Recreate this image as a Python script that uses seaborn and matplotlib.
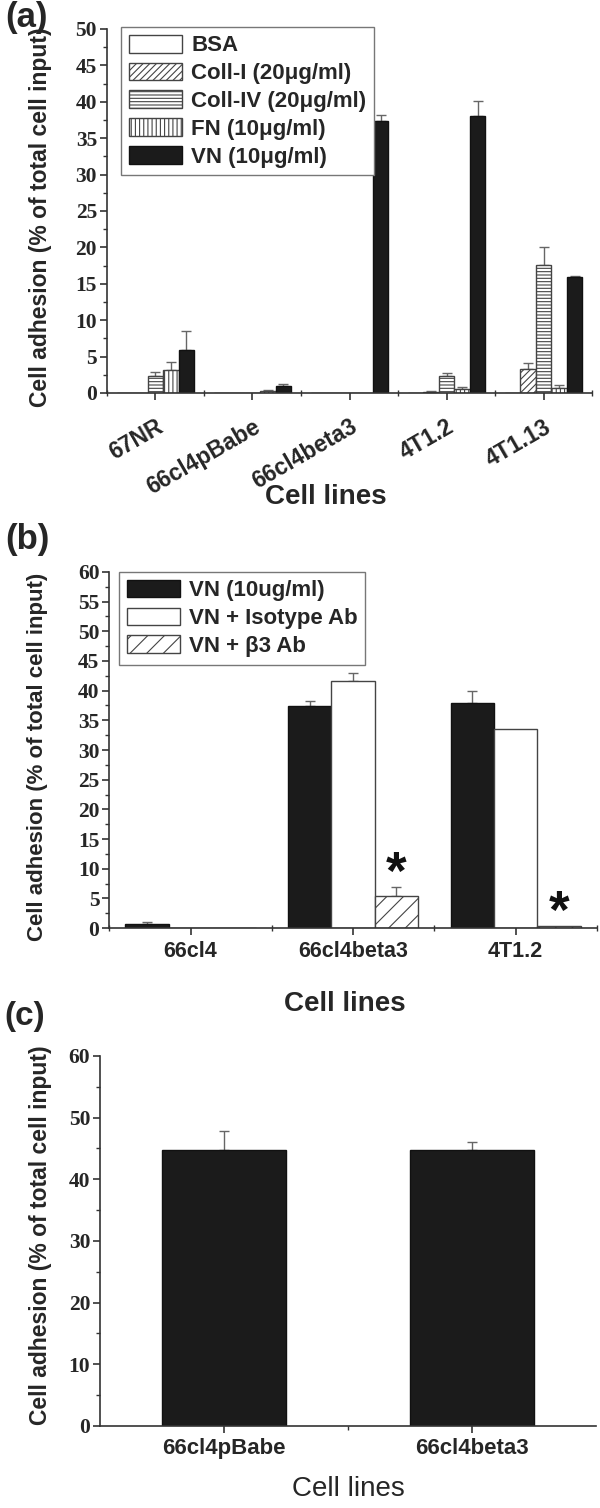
import numpy as np
import pandas as pd
import seaborn as sns
import matplotlib.pyplot as plt
from matplotlib.ticker import MultipleLocator

# ---- panel (a) data ----
cell_lines_a = ["67NR", "66cl4pBabe", "66cl4beta3", "4T1.2", "4T1.13"]
treatments_a = ["BSA", "Coll-I (20\u03bcg/ml)", "Coll-IV (20\u03bcg/ml)",
                "FN (10\u03bcg/ml)", "VN (10\u03bcg/ml)"]
bsa = [0, 0, 0, 0, 0]
bsa_err = [0, 0, 0, 0, 0]
coll1 = [0, 0, 0, 0.15, 3.3]
coll1_err = [0, 0, 0, 0.1, 0.8]
coll4 = [2.4, 0, 0, 2.4, 17.6]
coll4_err = [0.55, 0, 0, 0.4, 2.4]
fn = [3.2, 0.3, 0, 0.5, 0.7]
fn_err = [1.0, 0.05, 0, 0.3, 0.45]
vn = [5.9, 0.9, 37.4, 38.0, 15.9]
vn_err = [2.6, 0.3, 0.8, 2.1, 0.2]

# ---- panel (b) data ----
cell_lines_b = ["66cl4", "66cl4beta3", "4T1.2"]
treatments_b = ["VN (10ug/ml)", "VN + Isotype Ab", "VN + \u03b23 Ab"]
vn_b = [0.75, 37.4, 37.9]
vn_b_err = [0.25, 0.9, 2.1]
iso_b = [0, 41.6, 33.6]
iso_b_err = [0, 1.4, 0]
b3_b = [0, 5.35, 0.4]
b3_b_err = [0, 1.55, 0]

# ---- panel (c) data ----
cell_lines_c = ["66cl4pBabe", "66cl4beta3"]
adh_c = [44.7, 44.8]
adh_c_err = [3.1, 1.2]

sns.set_style("ticks")
plt.rcParams['font.family'] = ['Liberation Sans', 'DejaVu Sans']
plt.rcParams['font.weight'] = 'bold'
plt.rcParams['hatch.linewidth'] = 0.8
plt.rcParams['axes.linewidth'] = 1.2
plt.rcParams['axes.edgecolor'] = '#333333'

DARK = '#1b1b1b'
EDGE = '#444444'
ERR = '#666666'


def long_df(cats, treats, vals, errs):
    rows = []
    for t, v, e in zip(treats, vals, errs):
        for c, vv, ee in zip(cats, v, e):
            rows.append({'cell': c, 'treat': t, 'value': vv, 'err': ee})
    return pd.DataFrame(rows)


def add_errors(ax, bars, errs_list):
    for cont, errs in zip(bars, errs_list):
        xs = np.array([p.get_x() + p.get_width() / 2 for p in cont.patches])
        hs = np.array([p.get_height() for p in cont.patches])
        e = np.array(errs, dtype=float)
        m = e > 0
        if not m.any():
            continue
        ax.errorbar(xs[m], hs[m], yerr=[np.zeros(m.sum()), e[m]],
                    fmt='none', ecolor=ERR, elinewidth=1, capsize=3.5,
                    capthick=1, zorder=1)


def style_y(ax, ymax, major, minor):
    sns.despine(ax=ax)
    ax.set_ylim(0, ymax)
    ticks = np.arange(0, ymax + 0.01, major)
    ax.set_yticks(ticks)
    ax.set_yticklabels([f"{t:g}" for t in ticks], fontfamily='Liberation Serif',
                       fontweight='bold', fontsize=15.5)
    ax.yaxis.set_minor_locator(MultipleLocator(minor))
    ax.tick_params(axis='y', which='major', length=5, width=1.2, color='#333333', pad=2)
    ax.tick_params(axis='y', which='minor', length=3, width=1.0, color='#333333')


fig = plt.figure(figsize=(6, 15.08), dpi=100)

# ================= (a) =================
ax = fig.add_axes([0.178, 0.7394, 0.809, 0.2414])
df_a = long_df(cell_lines_a, treatments_a, [bsa, coll1, coll4, fn, vn],
               [bsa_err, coll1_err, coll4_err, fn_err, vn_err])
pal_a = dict(zip(treatments_a, ['white', 'white', 'white', 'white', DARK]))
sns.barplot(data=df_a, x='cell', y='value', hue='treat', order=cell_lines_a,
            hue_order=treatments_a, palette=pal_a, errorbar=None, width=0.8,
            edgecolor=EDGE, linewidth=1, ax=ax, zorder=2)
bars = list(ax.containers)
for cont, h in zip(bars, [None, '/////', '-----', '||||', None]):
    for p in cont.patches:
        p.set_hatch(h)
        p.set_edgecolor(EDGE if p.get_facecolor()[0] > 0.5 else '#111111')
add_errors(ax, bars, [bsa_err, coll1_err, coll4_err, fn_err, vn_err])
style_y(ax, 50, 5, 2.5)
ax.set_xlim(-0.5, 4.5)
ax.set_xticks(range(len(cell_lines_a)))
ax.set_xticklabels(cell_lines_a, rotation=30, ha='right', rotation_mode='anchor',
                   fontsize=16.5, fontweight='bold')
ax.set_xticks(np.arange(-0.5, 4.6, 1), minor=True)
ax.tick_params(axis='x', which='major', length=5, width=1.2, color='#333333', pad=11)
ax.tick_params(axis='x', which='minor', direction='inout', length=5, width=1.0, color='#333333')
ax.set_xlabel('Cell lines', fontsize=20, fontweight='bold')
ax.xaxis.set_label_coords(0.452, -0.25)
ax.set_ylabel('Cell adhesion (% of total cell input)', fontsize=16.5, fontweight='bold')
ax.yaxis.set_label_coords(-0.113, 0.484)
leg = ax.legend(handles=[c.patches[0] for c in bars], labels=treatments_a,
                loc='upper left', bbox_to_anchor=(0.03, 1.005), fontsize=16,
                fancybox=False, framealpha=1, edgecolor='#777777',
                handlelength=2.4, handleheight=0.85, handletextpad=0.4,
                labelspacing=0.28, borderpad=0.35, borderaxespad=0)
leg.get_frame().set_linewidth(1.0)

# ================= (b) =================
ax = fig.add_axes([0.182, 0.3846, 0.813, 0.2361])
df_b = long_df(cell_lines_b, treatments_b, [vn_b, iso_b, b3_b],
               [vn_b_err, iso_b_err, b3_b_err])
pal_b = dict(zip(treatments_b, [DARK, 'white', 'white']))
sns.barplot(data=df_b, x='cell', y='value', hue='treat', order=cell_lines_b,
            hue_order=treatments_b, palette=pal_b, errorbar=None, width=0.8,
            edgecolor=EDGE, linewidth=1, ax=ax, zorder=2)
bars = list(ax.containers)
for cont, h in zip(bars, [None, None, '//']):
    for p in cont.patches:
        p.set_hatch(h)
        p.set_edgecolor(EDGE if p.get_facecolor()[0] > 0.5 else '#111111')
add_errors(ax, bars, [vn_b_err, iso_b_err, b3_b_err])
# significance stars above the beta3-antibody bars
for p, e in zip(bars[2].patches[1:], b3_b_err[1:]):
    ax.text(p.get_x() + p.get_width() / 2, p.get_height() + e - 0.4, '*',
            ha='center', va='baseline', fontsize=38, fontweight='bold', color='#111111')
style_y(ax, 60, 5, 2.5)
ax.set_xlim(-0.5, 2.5)
ax.set_xticks(range(len(cell_lines_b)))
ax.set_xticklabels(cell_lines_b, fontsize=15.5, fontweight='bold')
ax.set_xticks(np.arange(-0.5, 2.6, 1), minor=True)
ax.tick_params(axis='x', which='major', length=5, width=1.2, color='#333333', pad=4)
ax.tick_params(axis='x', which='minor', direction='inout', length=5, width=1.0, color='#333333')
ax.set_xlabel('Cell lines', fontsize=20, fontweight='bold')
ax.xaxis.set_label_coords(0.483, -0.178)
ax.set_ylabel('Cell adhesion (% of total cell input)', fontsize=16, fontweight='bold')
ax.yaxis.set_label_coords(-0.125, 0.48)
leg = ax.legend(handles=[c.patches[0] for c in bars], labels=treatments_b,
                loc='upper left', bbox_to_anchor=(0.02, 1.0), fontsize=16,
                fancybox=False, framealpha=1, edgecolor='#777777',
                handlelength=2.4, handleheight=0.85, handletextpad=0.4,
                labelspacing=0.28, borderpad=0.35, borderaxespad=0)
leg.get_frame().set_linewidth(1.0)

# ================= (c) =================
ax = fig.add_axes([0.1667, 0.0544, 0.8263, 0.2454])
df_c = pd.DataFrame({'cell': cell_lines_c, 'value': adh_c})
sns.barplot(data=df_c, x='cell', y='value', order=cell_lines_c, color=DARK,
            errorbar=None, width=0.5, edgecolor='#111111', linewidth=1,
            saturation=1, ax=ax, zorder=2)
bars = list(ax.containers)
add_errors(ax, bars, [adh_c_err])
style_y(ax, 60, 10, 5)
ax.set_xlim(-0.5, 1.5)
ax.set_xticks(range(len(cell_lines_c)))
ax.set_xticklabels(cell_lines_c, fontsize=16, fontweight='bold')
ax.set_xticks([0.5], minor=True)
ax.tick_params(axis='x', which='major', length=5, width=1.2, color='#333333', pad=4)
ax.tick_params(axis='x', which='minor', length=3, width=1.0, color='#333333')
ax.set_xlabel('Cell lines', fontsize=20, fontweight='normal')
ax.xaxis.set_label_coords(0.5, -0.135)
ax.set_ylabel('Cell adhesion (% of total cell input)', fontsize=16.5, fontweight='bold')
ax.yaxis.set_label_coords(-0.097, 0.515)

fig.text(0.008, 0.9995, '(a)', fontsize=25, fontweight='bold', va='top')
fig.text(0.008, 0.6530, '(b)', fontsize=25, fontweight='bold', va='top')
fig.text(0.008, 0.3365, '(c)', fontsize=24, fontweight='bold', va='top')

fig.savefig('out.png', dpi=100)
